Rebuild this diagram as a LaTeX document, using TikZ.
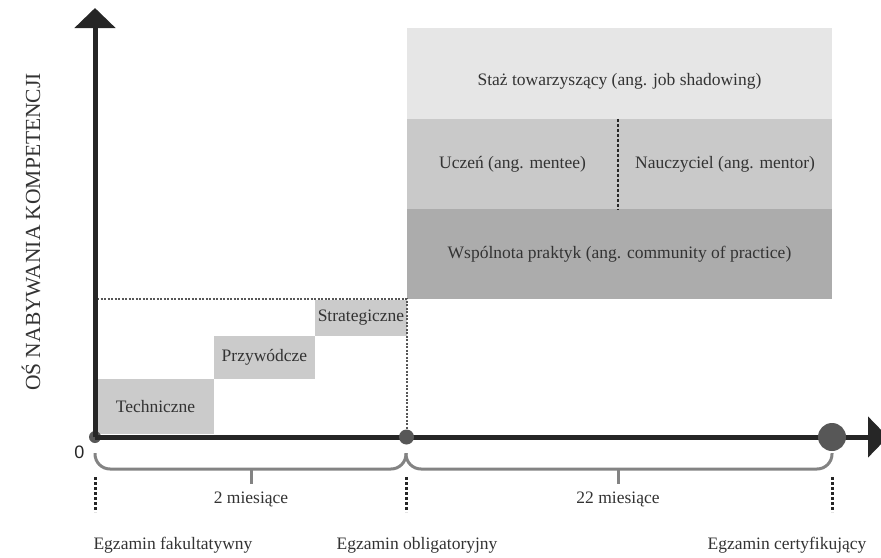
\documentclass[tikz,border=0pt]{standalone}
\usepackage{fontspec}
\setmainfont{Liberation Serif}
\newfontfamily\zerofont{Liberation Sans}
\usetikzlibrary{arrows.meta}
\definecolor{axiscol}{HTML}{262626}
\definecolor{dotcol}{HTML}{575757}
\definecolor{bracecol}{HTML}{838383}
\definecolor{textcol}{HTML}{333333}
\definecolor{stagecol}{HTML}{CBCBCB}
\definecolor{lightcol}{HTML}{E6E6E6}
\definecolor{midcol}{HTML}{C9C9C9}
\definecolor{darkcol}{HTML}{ACACAC}
\tikzset{
  stage/.style    = {rectangle, fill=stagecol, inner sep=0pt, text=textcol},
  learnbox/.style = {rectangle, inner sep=0pt, text=textcol,
                     minimum width=425pt, minimum height=90pt},
  dot/.style      = {circle, fill=dotcol, inner sep=0pt},
  axis/.style     = {draw=axiscol, line width=5pt,
                     -{Triangle[width=40pt,length=20pt]}},
  guide/.style    = {draw=dotcol, line width=1.5pt,
                     dash pattern=on 2pt off 1.5pt},
  tick/.style     = {draw=axiscol, line width=3pt,
                     dash pattern=on 3pt off 2pt},
  brace/.style    = {draw=bracecol, line width=3pt, rounded corners=15pt},
  caption/.style  = {text=textcol}
}

\begin{document}
\begin{tikzpicture}
  [
    x = 1pt, y = -1pt,
    every node/.style = {font=\fontsize{17.5}{20}\selectfont}
  ]
  \useasboundingbox (0,0) rectangle (881,557);

  % learning stages
  \node [stage, minimum width=117pt, minimum height=55pt]
    (tech) at (155.5,406.5) {Techniczne};
  \node [stage, minimum width=101pt, minimum height=43pt]
    (lead) at (264.5,357.5) {Przywódcze};
  \node [stage, minimum width=92pt, minimum height=36pt]
    (strat) at (361,318) {Strategiczne};

  % forms of learning
  \node [learnbox, fill=lightcol, minimum height=91pt]
    (shadow) at (619.5,73.5)
    {\raisebox{-8pt}[\height][\depth]{Staż towarzyszący (ang. job shadowing)}};
  \node [learnbox, fill=midcol, minimum width=211pt]
    (mentee) at (512.5,164) {Uczeń (ang. mentee)};
  \node [learnbox, fill=midcol, minimum width=214pt]
    (mentor) at (725,164) {Nauczyciel (ang. mentor)};
  \node [learnbox, fill=darkcol]
    (community) at (619.5,254) {Wspólnota praktyk (ang. community of practice)};
  \draw [draw=axiscol, line width=2pt, dash pattern=on 3pt off 2pt]
    (mentee.north east) -- (mentee.south east);

  % guide lines
  \coordinate (corner) at (407,299);
  \draw [guide] (97,299) -- (corner) -- (407,437);

  % axes
  \coordinate (ytip) at (95,8);
  \coordinate (xtip) at (888,437);
  \node [dot, minimum size=12pt] (start) at (95,437) {};
  \draw [axis] (start.center) -- (ytip);
  \draw [axis] (start.center) -- (xtip);
  \node [dot, minimum size=15pt] (mid) at (406.5,437) {};
  \node [dot, minimum size=28pt] (final) at (832,437) {};

  \node [text=axiscol, font=\zerofont\fontsize{18}{20}\selectfont]
    (zero) at (79.5,452.5) {0};
  \node [caption, rotate=90, font=\fontsize{21.5}{24}\selectfont]
    (ylabel) at (31,232) {OŚ NABYWANIA KOMPETENCJI};

  % periods
  \draw [brace] (95,453) |- (406,469) -- (406,453);
  \draw [brace] (406,453) |- (832,469) -- (832,453);
  \coordinate (p1) at (251,469);
  \coordinate (p2) at (618,469);
  \draw [draw=bracecol, line width=3pt] (p1) -- ++(0,15);
  \draw [draw=bracecol, line width=3pt] (p2) -- ++(0,15);
  \node [caption] (two) at (251,499) {2 miesiące};
  \node [caption] (twentytwo) at (618,499) {22 miesiące};

  % exams
  \draw [tick] (95,477) -- (95,512);
  \draw [tick] (406,477) -- (406,512);
  \draw [tick] (832,477) -- (832,512);
  \node [caption] (optional) at (173,545) {Egzamin fakultatywny};
  \node [caption] (required) at (417,545) {Egzamin obligatoryjny};
  \node [caption] (certify) at (787,545) {Egzamin certyfikujący};
\end{tikzpicture}
\end{document}
